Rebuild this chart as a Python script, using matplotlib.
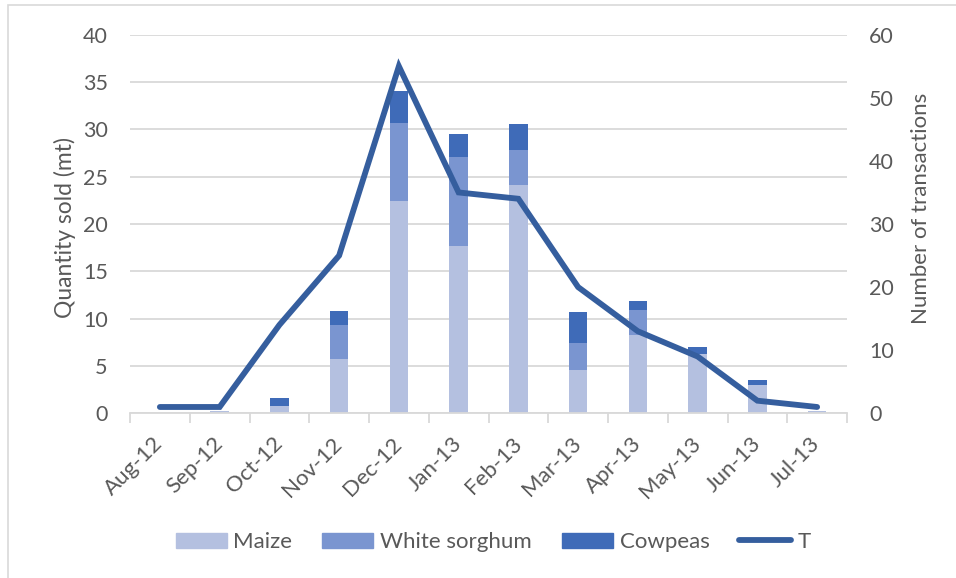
import matplotlib
matplotlib.use("Agg")
import matplotlib.pyplot as plt
from matplotlib.lines import Line2D
from matplotlib.patches import Patch, Rectangle
import numpy as np

months = ["Aug-12", "Sep-12", "Oct-12", "Nov-12", "Dec-12", "Jan-13",
          "Feb-13", "Mar-13", "Apr-13", "May-13", "Jun-13", "Jul-13"]
maize = [0.0, 0.2, 0.8, 5.7, 22.4, 17.7, 24.1, 4.6, 8.3, 6.3, 3.0, 0.2]
white_sorghum = [0.0, 0.0, 0.0, 3.6, 8.3, 9.4, 3.7, 2.8, 2.6, 0.0, 0.0, 0.0]
cowpeas = [0.0, 0.0, 0.8, 1.5, 3.4, 2.4, 2.8, 3.3, 1.0, 0.7, 0.5, 0.0]
transactions = [1, 1, 14, 25, 55, 35, 34, 20, 13, 9, 2, 1]

C_MAIZE = "#b4c0e0"
C_SORGHUM = "#7a95d0"
C_COWPEAS = "#3f6bb8"
C_LINE = "#355e9e"
C_TEXT = "#595959"
C_GRID = "#d9d9d9"

plt.rcParams["font.family"] = ["Lato", "DejaVu Sans"]
FS = 15.5

W, H = 956, 578
fig = plt.figure(figsize=(W / 100, H / 100), dpi=100)

# light chart border (top and left edges visible)
fig.patches.append(Rectangle((8 / W, -0.1), 1.2, (H - 5) / H + 0.1,
                             transform=fig.transFigure, fill=False,
                             edgecolor="#d9d9d9", linewidth=1.2))

ax = fig.add_axes([130 / W, (H - 413.3) / H, (847 - 130) / W, (413.3 - 34.7) / H])
x = np.arange(len(months))
bw = 0.31
m = np.array(maize)
s = np.array(white_sorghum)
c = np.array(cowpeas)
ax.bar(x, m, bw, color=C_MAIZE, zorder=2)
ax.bar(x, s, bw, bottom=m, color=C_SORGHUM, zorder=2)
ax.bar(x, c, bw, bottom=m + s, color=C_COWPEAS, zorder=2)

ax.set_xlim(-0.5, len(months) - 0.5)
ax.set_ylim(0, 40)
ax.set_yticks(range(0, 41, 5))
ax.yaxis.grid(True, color=C_GRID, linewidth=1.3)
ax.set_axisbelow(True)
for side in ["top", "right", "left"]:
    ax.spines[side].set_visible(False)
ax.spines["bottom"].set_color(C_GRID)
ax.spines["bottom"].set_linewidth(1.3)

ax.set_xticks(x)
ax.set_xticklabels(months, rotation=45, ha="right", va="center",
                   rotation_mode="anchor", fontsize=16, color=C_TEXT)
ax.tick_params(axis="x", which="major", length=0, pad=19.5)
ax.set_xticks(np.arange(-0.5, len(months), 1), minor=True)
ax.tick_params(axis="x", which="minor", length=7, color=C_GRID, width=1.3)
ax.tick_params(axis="y", length=0, pad=16, labelsize=FS, labelcolor=C_TEXT)
ax.set_ylabel("Quantity sold (mt)", fontsize=16.5, color=C_TEXT, labelpad=5)
ax.yaxis.label.set_y(0.49)

ax2 = ax.twinx()
ax2.plot(x, transactions, color=C_LINE, linewidth=4.2, solid_capstyle="round",
         solid_joinstyle="miter", zorder=3)
ax2.set_ylim(0, 60)
ax2.set_yticks(range(0, 61, 10))
for side in ["top", "right", "left", "bottom"]:
    ax2.spines[side].set_visible(False)
ax2.tick_params(axis="y", length=0, pad=16, labelsize=FS, labelcolor=C_TEXT)
ax2.set_ylabel("Number of transactions", fontsize=16, color=C_TEXT, labelpad=12)
ax2.yaxis.label.set_y(0.542)

handles = [Patch(color=C_MAIZE), Patch(color=C_SORGHUM), Patch(color=C_COWPEAS),
           Line2D([0], [0], color=C_LINE, linewidth=4.2, solid_capstyle="round")]
labels = ["Maize", "White sorghum", "Cowpeas", "T"]
leg = fig.legend(handles, labels, loc="center", bbox_to_anchor=(493 / W, 1 - 542 / H),
                 ncol=4, frameon=False, fontsize=16, labelcolor=C_TEXT,
                 handlelength=2.3, handleheight=0.65, handletextpad=0.3,
                 columnspacing=1.35)

fig.savefig("out.png", dpi=100)
